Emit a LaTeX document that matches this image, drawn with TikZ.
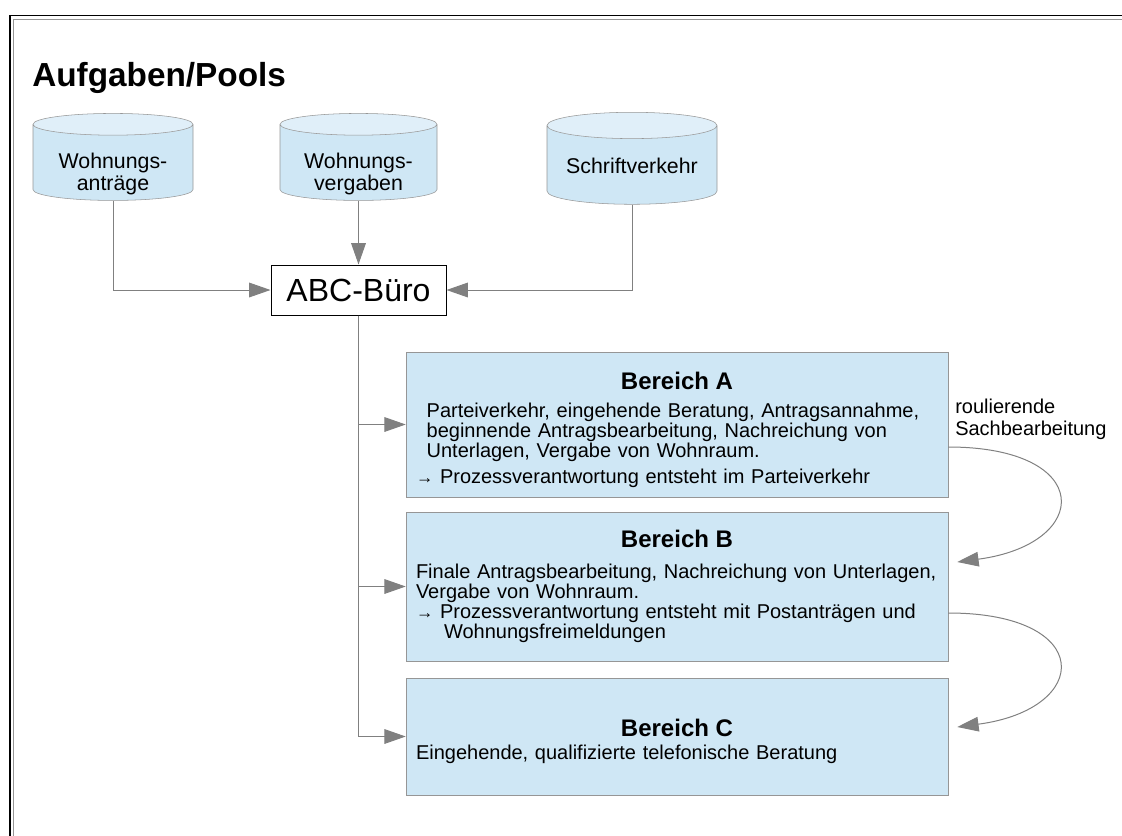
\documentclass[tikz,border=0pt]{standalone}
\usepackage{fontspec}
\setmainfont{Liberation Sans}
\usetikzlibrary{shapes.geometric,calc,arrows.meta,positioning}

\definecolor{poolblau}{RGB}{207,231,245}
\definecolor{poolhell}{RGB}{224,239,249}
\definecolor{randgrau}{RGB}{150,150,150}
\definecolor{pfeilgrau}{RGB}{128,128,128}

\newcommand{\kopf}[2][6pt]{{\centering\bfseries\fontsize{18}{18}\selectfont #2\par}\vspace{#1}}
\newcommand{\pfeil}{{\fontsize{13}{13}\selectfont →}}
\newcommand{\pooltext}[2][0pt]{\raisebox{#1}[\height][\depth]{\begin{tabular}{@{}c@{}}#2\end{tabular}}}

\begin{document}
\begin{tikzpicture}[x=0.75pt, y=-0.75pt, font=\fontsize{15}{15}\selectfont,
  pool/.style={draw=randgrau, cylinder, shape border rotate=90, aspect=0.2, cylinder uses custom fill, cylinder body fill=poolblau, cylinder end fill=poolhell, inner sep=0pt, font=\fontsize{16}{16.5}\selectfont},
  bereich/.style={draw=randgrau, fill=poolblau, minimum width=406.5pt, text width=391.5pt, inner xsep=7.5pt, align=left},
  conn/.style={draw=pfeilgrau, line width=0.75pt, -{Triangle[length=16pt, width=11pt]}}]
\useasboundingbox (0,0) rectangle (1122,836);
% Rahmen
\draw[line width=1.1pt] (10,836) -- (10,15.5) -- (1122,15.5);
\draw[randgrau, line width=0.75pt] (13.5,836) -- (13.5,19) -- (1122,19);

\node[anchor=base west, inner sep=0pt, font=\bfseries\fontsize{25}{25}\selectfont] (titel) at (32,86) {Aufgaben/Pools};

% Pools
\node[pool, minimum width=120pt, minimum height=65.25pt] (antraege) at (113,162.5) {\pooltext[-9.5pt]{Wohnungs-\\anträge}};
\node[pool, minimum width=117.75pt, minimum height=65.25pt] (vergaben) at (358.5,162.5) {\pooltext[-9.5pt]{Wohnungs-\\vergaben}};
\node[pool, minimum width=127.5pt, minimum height=69pt] (schrift) at (632,165) {\pooltext[-3pt]{Schriftverkehr}};

\node[draw, fill=white, line width=0.75pt, minimum width=131.25pt, minimum height=37.5pt, font=\fontsize{24}{24}\selectfont] (abc) at (358.5,290) {ABC-Büro};

\draw[conn] (antraege.south) |- (abc.west);
\draw[conn] (vergaben.south) -- (abc.north);
\draw[conn] (schrift.south) |- (abc.east);

% Bereiche
\node[bereich, minimum height=108.75pt] (bereichA) at (677,424.5) {\kopf[6pt]{\rule{0pt}{21pt}Bereich A}\leftskip=8pt
  Parteiverkehr, eingehende Beratung, Antragsannahme,\\
  beginnende Antragsbearbeitung, Nachreichung von\\
  Unterlagen, Vergabe von Wohnraum.\\[4pt]
  \pfeil\ Prozessverantwortung entsteht im Parteiverkehr};
\node[bereich, minimum height=111.75pt] (bereichB) at (677,586.5) {\kopf[8pt]{Bereich B}
  Finale Antragsbearbeitung, Nachreichung von Unterlagen,\\
  Vergabe von Wohnraum.\\
  \pfeil\ Prozessverantwortung entsteht mit Postanträgen und\\
  \hspace*{21pt}Wohnungsfreimeldungen};
\node[bereich, minimum height=87.75pt] (bereichC) at (677,736.5) {\kopf[2pt]{\rule{0pt}{20pt}Bereich C}\leftskip=8pt
  Eingehende, qualifizierte telefonische Beratung};

\draw[conn] (abc.south) |- (bereichA.west);
\draw[conn] (abc.south) |- (bereichB.west);
\draw[conn] (abc.south) |- (bereichC.west);

\node[anchor=west, align=left, inner sep=0pt, font=\fontsize{15}{16.5}\selectfont] (rotation) at (955,419) {roulierende\\Sachbearbeitung};

\draw[conn] ($(bereichA.east)+(0,22.5)$) .. controls +(147,0) and +(135,-18) .. ($(bereichB.east)+(9,-24.5)$);
\draw[conn] ($(bereichB.east)+(0,26.5)$) .. controls +(147,0) and +(135,-18) .. ($(bereichC.east)+(9,-9.5)$);
\end{tikzpicture}
\end{document}
